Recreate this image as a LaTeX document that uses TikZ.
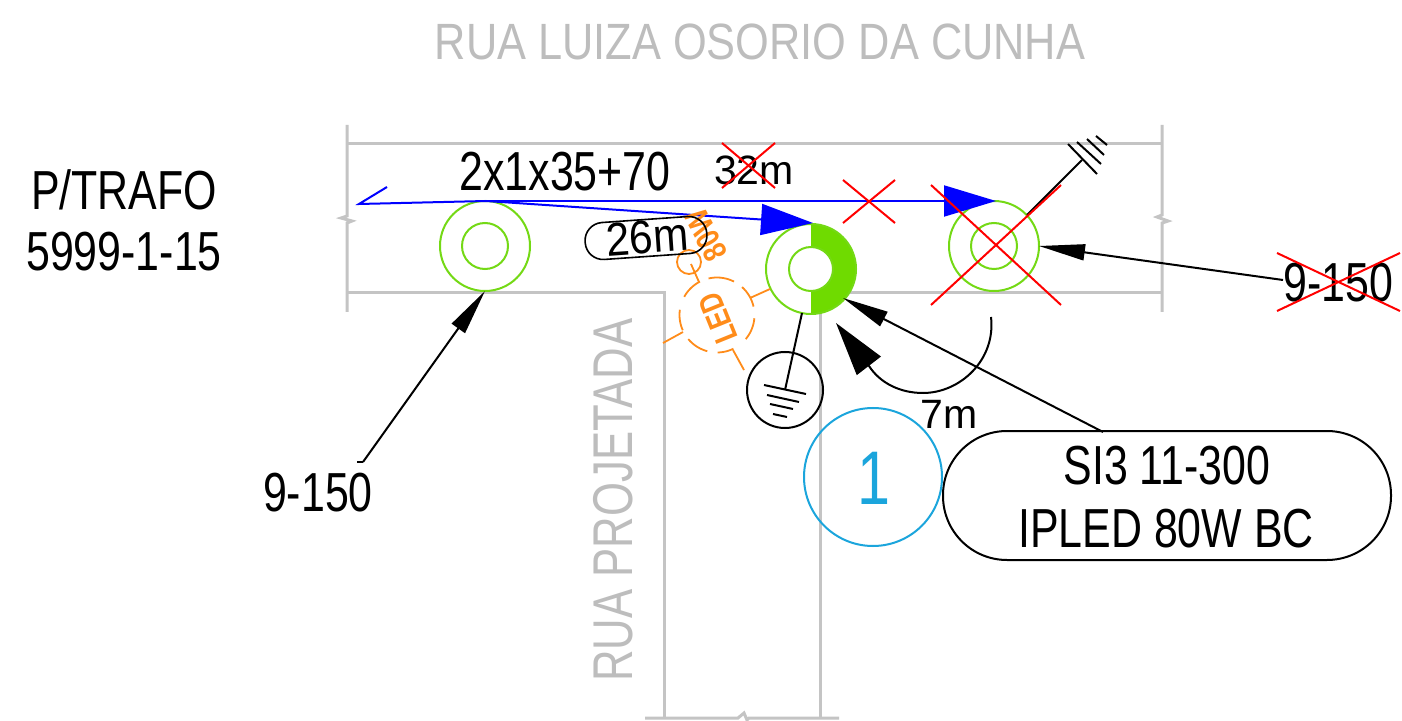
\documentclass[tikz,border=0pt]{standalone}
\usepackage{fontspec}
\usetikzlibrary{arrows.meta}
\setmainfont{Liberation Sans}
\newfontfamily\condfont[FakeStretch=0.78]{Liberation Sans}
\newfontfamily\midfont[FakeStretch=0.90]{Liberation Sans}
\newfontfamily\titlefont[FakeStretch=0.85]{Liberation Sans}
\newfontfamily\sidefont[FakeStretch=0.78]{Liberation Sans}
\newfontfamily\plainfont{Liberation Sans}
\newfontfamily\boldfont[FakeStretch=0.78]{Liberation Sans Bold}
\definecolor{roadgray}{HTML}{C4C4C4}
\definecolor{titlegray}{HTML}{BDBDBD}
\definecolor{polegreen}{HTML}{74D915}
\definecolor{fillgreen}{HTML}{6FDB00}
\definecolor{ledorange}{HTML}{FF8C1A}
\definecolor{refcyan}{HTML}{1BA5DC}
\tikzset{
  road/.style={draw=roadgray,line width=1.5pt},
  pole/.style={circle,draw=polegreen,line width=1pt,inner sep=0pt,outer sep=0pt},
  cable/.style={draw=blue,line width=1pt},
  bluetip/.style={-{Triangle[length=26pt,width=15.5pt,fill=blue,color=blue]}},
  redx/.style={draw=red,line width=1pt},
  leader/.style={draw=black,line width=1pt},
  bigtip/.style={-{Triangle[length=23pt,width=8pt,fill=black]}},
  maintext/.style={inner sep=0pt,outer sep=0pt,font=\fontsize{27.5}{32}\condfont},
  smalltext/.style={inner sep=0pt,outer sep=0pt,font=\fontsize{20.5}{24}\plainfont},
  ledline/.style={draw=ledorange,line width=0.9pt},
  ledtext/.style={inner sep=0pt,outer sep=0pt,text=ledorange,font=\fontsize{16.5}{18}\boldfont},
}
\begin{document}
\begin{tikzpicture}[x=0.5pt,y=-0.5pt]
\useasboundingbox (0,0) rectangle (1402,721);
\fill[white] (0,0) rectangle (1402,721);
% road
\draw[road] (347,125) -- (347,216) -- (341,218) -- (352,221) -- (347,223) -- (347,312);
\draw[road] (1162,125) -- (1162,215) -- (1157,217) -- (1168,221) -- (1162,223) -- (1162,312);
\draw[road] (347,144) -- (1162,144);
\draw[road] (347,293) -- (664,293) -- (664,718);
\draw[road] (1162,293) -- (820,293) -- (820,718);
\draw[road] (645,718) -- (738,718) -- (744,713) -- (747,720) -- (749,718) -- (839,718);
% titles
\node[inner sep=0pt,text=titlegray,font=\fontsize{25.5}{30}\titlefont] (title) at (760,42) {RUA LUIZA OSORIO DA CUNHA};
\node[inner sep=0pt,text=titlegray,font=\fontsize{28}{32}\sidefont,rotate=90] (side) at (613,500) {RUA PROJETADA};
\node[maintext] (trafoA) at (124,190) {P/TRAFO};
\node[maintext] (trafoB) at (124,252) {5999-1-15};
% poles
\path[fill=fillgreen] (811,224) arc[start angle=-90,end angle=90,radius=45] -- (811,291) arc[start angle=90,end angle=-90,radius=22] -- cycle;
\node[pole,minimum size=45pt] (p1) at (485,246) {};
\node[pole,minimum size=23pt] (p1i) at (485,246) {};
\node[pole,minimum size=45pt] (p2) at (811,269) {};
\node[pole,minimum size=22pt] (p2i) at (811,269) {};
\node[pole,minimum size=45pt] (p3) at (994,246) {};
\node[pole,minimum size=23pt] (p3i) at (994,246) {};
% cables
\coordinate (c0) at (359,204);
\coordinate (c1) at (387,187);
\coordinate (c2) at (486,201);
\coordinate (c3) at (813,223);
\coordinate (c4) at (996,201);
\draw[cable] (c1) -- (c0) -- (c2);
\draw[cable,bluetip] (c2) -- (c3);
\draw[cable,bluetip] (c2) -- (c4);
% ground at pole 3
\coordinate (h0) at (1027,215);
\coordinate (h1) at (1082,160);
\draw[leader] (h0) -- (h1);
\draw[leader] (1068,144) -- (1097,174) (1077,142) -- (1101,164) (1087,139) -- (1104,155) (1096,136) -- (1107,145);
% ground at pole 2
\node[circle,draw=black,line width=1pt,minimum size=38pt,inner sep=0pt] (gnd) at (785,390) {};
\draw[leader] (802,313) -- (gnd.center);
\draw[leader] (764,385) -- (806,394) (767,395) -- (799,402) (770,404) -- (793,409) (773,414) -- (787,417);
% LED symbol
\foreach \a/\b in {63/103,13/48,-40/-5,-89/-64,220/255,172/204,117/151}
  \draw[ledline] plot[domain=\a:\b,samples=10] ({717+37.5*cos(\x)},{315-37.5*sin(\x)});
\draw[ledline] (750,298) -- (770,289);
\draw[ledline] (663,343) -- (683,332);
\draw[ledline] (733,350) -- (744,370);
\node[circle,draw=ledorange,line width=0.9pt,minimum size=12pt,inner sep=0pt] (ledc) at (689,262) {};
\draw[ledline] (ledc.center) ++(2,2) -- (699,282);
\node[ledtext,rotate=112] (led) at (718,318) {LED};
\node[ledtext,rotate=118] (watt) at (706,235) {80W};
% 26m
\node[draw=black,line width=0.8pt,rounded corners=9pt,rotate=4,minimum width=61pt,minimum height=18.5pt,inner sep=0pt] (lenbox) at (646,238) {};
\node[inner sep=0pt,rotate=4,font=\fontsize{23.5}{26}\midfont] (lenlabel) at (647,237) {26m};
% labels
\node[maintext] (cablelabel) at (565,172) {2x1x35+70};
\node[smalltext] (l32) at (754,170) {32m};
\node[smalltext] (l7) at (949,414) {7m};
\node[maintext] (r150) at (1338,283) {9-150};
\node[maintext] (l150) at (318,493) {9-150};
% leaders
\coordinate (ll0) at (357,462);
\coordinate (ll1) at (363,462);
\draw[leader] (ll0) -- (ll1);
\draw[leader,bigtip] (ll1) -- (p1.south);
\coordinate (rl0) at (1283,280);
\draw[leader,bigtip] (rl0) -- (p3.east);
% info box
\node[draw=black,line width=1pt,rounded corners=32pt,minimum width=224pt,minimum height=64.5pt,inner sep=0pt] (si) at (1167,495.5) {};
\node[maintext] (si1) at (1167,466) {SI3 11-300};
\node[maintext] (si2) at (1166,529) {IPLED 80W BC};
\coordinate (sl0) at (1103,432);
\coordinate (sl1) at (843,298);
\draw[leader,bigtip] (sl0) -- (sl1);
\coordinate (al0) at (991,317);
\coordinate (al1) at (836,323);
\coordinate (al2) at (869,366);
\draw[leader,-{Triangle[length=27pt,width=15pt,fill=black]}] (al0) .. controls (996,360) and (960,393) .. (923,393) .. controls (900,393) and (880,383) .. (al2) -- (al1);
% number
\node[circle,draw=refcyan,line width=1pt,minimum size=69pt,inner sep=0pt] (num) at (873,477) {};
\node[inner sep=0pt,text=refcyan,font=\fontsize{38}{44}\condfont] (numlabel) at (874,478) {1};
% red crosses
\draw[redx] (722,143) -- (775,188) (722,188) -- (775,143);
\draw[redx] (843,180) -- (895,223) (843,223) -- (895,180);
\draw[redx] (931,185) -- (1061,305) (931,305) -- (1061,185);
\draw[redx] (1277,253) -- (1400,311) (1277,311) -- (1400,253);
\end{tikzpicture}
\end{document}
